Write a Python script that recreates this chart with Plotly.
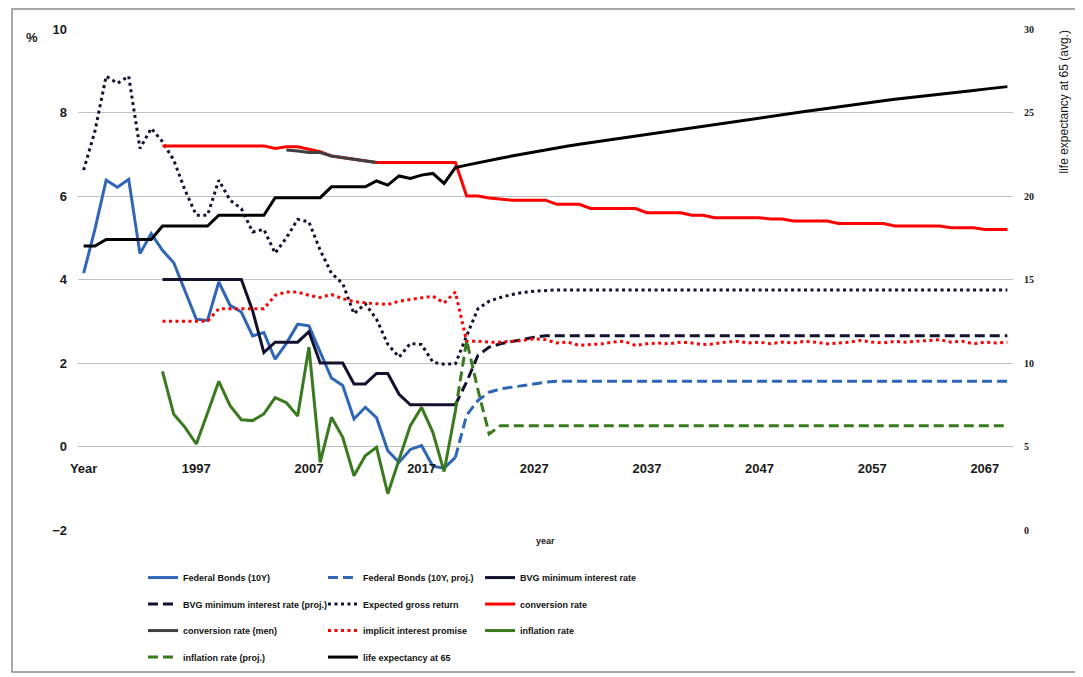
import plotly.graph_objects as go

# ---------------- data ----------------
tick_years = [1987, 1997, 2007, 2017, 2027, 2037, 2047, 2057, 2067]
tick_text = ["Year", "1997", "2007", "2017", "2027", "2037", "2047", "2057", "2067"]

fed_years = list(range(1987, 2021))
fed_bonds = [4.15, 5.2, 6.38, 6.21, 6.4, 4.62, 5.1, 4.7, 4.4, 3.7, 3.05, 3.02, 3.94, 3.38,
             3.22, 2.65, 2.73, 2.09, 2.47, 2.93, 2.89, 2.26, 1.64, 1.46, 0.66, 0.94, 0.69,
             -0.1, -0.38, -0.07, 0.02, -0.47, -0.52, -0.26]

fed_proj_years = list(range(2020, 2070))
fed_bonds_proj = [-0.26, 0.75, 1.1, 1.3, 1.38, 1.42, 1.46, 1.5, 1.54, 1.56,
                  1.56, 1.56, 1.56, 1.56, 1.56, 1.56, 1.56, 1.56, 1.56, 1.56,
                  1.56, 1.56, 1.56, 1.56, 1.56, 1.56, 1.56, 1.56, 1.56, 1.56,
                  1.56, 1.56, 1.56, 1.56, 1.56, 1.56, 1.56, 1.56, 1.56, 1.56,
                  1.56, 1.56, 1.56, 1.56, 1.56, 1.56, 1.56, 1.56, 1.56, 1.56]

bvg_years = list(range(1994, 2021))
bvg_min = [4.0, 4.0, 4.0, 4.0, 4.0, 4.0, 4.0, 4.0, 3.25, 2.25, 2.5, 2.5, 2.5, 2.75,
           2.0, 2.0, 2.0, 1.5, 1.5, 1.75, 1.75, 1.25, 1.0, 1.0, 1.0, 1.0, 1.0]

bvg_proj_years = list(range(2020, 2070))
bvg_min_proj = [1.0, 1.55, 2.18, 2.38, 2.46, 2.51, 2.57, 2.62, 2.65, 2.65,
                2.65, 2.65, 2.65, 2.65, 2.65, 2.65, 2.65, 2.65, 2.65, 2.65,
                2.65, 2.65, 2.65, 2.65, 2.65, 2.65, 2.65, 2.65, 2.65, 2.65,
                2.65, 2.65, 2.65, 2.65, 2.65, 2.65, 2.65, 2.65, 2.65, 2.65,
                2.65, 2.65, 2.65, 2.65, 2.65, 2.65, 2.65, 2.65, 2.65, 2.65]

exp_years = list(range(1987, 2070))
expected_return = [6.62, 7.55, 8.87, 8.7, 8.87, 7.14, 7.62, 7.3, 6.86, 6.14,
                   5.54, 5.54, 6.38, 5.9, 5.7, 5.14, 5.2, 4.63, 5.0, 5.44,
                   5.38, 4.7, 4.15, 3.9, 3.18, 3.42, 3.05, 2.45, 2.14, 2.47,
                   2.44, 2.02, 1.97, 1.98, 2.65, 3.3, 3.48, 3.57, 3.64, 3.69,
                   3.72, 3.74, 3.75, 3.75, 3.75, 3.75, 3.75, 3.75, 3.75, 3.75,
                   3.75, 3.75, 3.75, 3.75, 3.75, 3.75, 3.75, 3.75, 3.75, 3.75,
                   3.75, 3.75, 3.75, 3.75, 3.75, 3.75, 3.75, 3.75, 3.75, 3.75,
                   3.75, 3.75, 3.75, 3.75, 3.75, 3.75, 3.75, 3.75, 3.75, 3.75,
                   3.75, 3.75, 3.75]

conv_years = list(range(1994, 2070))
conversion_rate = [7.2, 7.2, 7.2, 7.2, 7.2, 7.2, 7.2, 7.2, 7.2, 7.2,
                   7.14, 7.18, 7.18, 7.12, 7.06, 6.96, 6.92, 6.88, 6.84, 6.8,
                   6.8, 6.8, 6.8, 6.8, 6.8, 6.8, 6.8, 6.0, 6.0, 5.95,
                   5.92, 5.9, 5.9, 5.9, 5.9, 5.8, 5.8, 5.8, 5.7, 5.7,
                   5.7, 5.7, 5.7, 5.6, 5.6, 5.6, 5.6, 5.54, 5.54, 5.48,
                   5.48, 5.48, 5.48, 5.48, 5.45, 5.45, 5.4, 5.4, 5.4, 5.4,
                   5.34, 5.34, 5.34, 5.34, 5.34, 5.28, 5.28, 5.28, 5.28, 5.28,
                   5.24, 5.24, 5.24, 5.2, 5.2, 5.2]

men_years = list(range(2005, 2014))
conversion_rate_men = [7.1, 7.08, 7.04, 7.04, 6.96, 6.92, 6.88, 6.84, 6.8]

impl_years = list(range(1994, 2070))
implicit_promise = [3.0, 3.0, 3.0, 3.0, 3.0, 3.3, 3.3, 3.3, 3.3, 3.3,
                    3.62, 3.7, 3.7, 3.62, 3.57, 3.64, 3.54, 3.47, 3.44, 3.42,
                    3.4, 3.48, 3.52, 3.57, 3.6, 3.44, 3.7,
                    2.52, 2.52, 2.5, 2.5, 2.52, 2.54, 2.58, 2.56, 2.48, 2.5,
                    2.42, 2.44, 2.46, 2.5, 2.52, 2.42, 2.46, 2.48, 2.46, 2.5,
                    2.48, 2.44, 2.46, 2.5, 2.52, 2.48, 2.5, 2.46, 2.5, 2.48,
                    2.52, 2.5, 2.46, 2.48, 2.5, 2.54, 2.5, 2.48, 2.52, 2.5,
                    2.52, 2.54, 2.56, 2.5, 2.52, 2.46, 2.5, 2.48, 2.5]

infl_years = list(range(1994, 2021))
inflation = [1.8, 0.77, 0.46, 0.06, 0.8, 1.56, 0.98, 0.64, 0.62, 0.78,
             1.17, 1.05, 0.73, 2.38, -0.38, 0.7, 0.22, -0.7, -0.22, -0.02,
             -1.13, -0.32, 0.5, 0.94, 0.34, -0.6, 0.85]

infl_proj_years = list(range(2020, 2070))
inflation_proj = [0.85, 2.54, 1.36, 0.3, 0.5, 0.5, 0.5, 0.5, 0.5, 0.5,
                  0.5, 0.5, 0.5, 0.5, 0.5, 0.5, 0.5, 0.5, 0.5, 0.5,
                  0.5, 0.5, 0.5, 0.5, 0.5, 0.5, 0.5, 0.5, 0.5, 0.5,
                  0.5, 0.5, 0.5, 0.5, 0.5, 0.5, 0.5, 0.5, 0.5, 0.5,
                  0.5, 0.5, 0.5, 0.5, 0.5, 0.5, 0.5, 0.5, 0.5, 0.5]

life_years = list(range(1987, 2070))
life_expectancy = [17.0, 17.0, 17.4, 17.4, 17.4, 17.4, 17.4, 18.2, 18.2, 18.2,
                   18.2, 18.2, 18.85, 18.85, 18.85, 18.85, 18.85, 19.9, 19.9, 19.9,
                   19.9, 19.9, 20.55, 20.55, 20.55, 20.55, 20.9, 20.65, 21.2, 21.05,
                   21.25, 21.35, 20.75, 21.7, 21.85,
                   22.0, 22.13, 22.26, 22.39, 22.52, 22.64, 22.76, 22.88, 23.0, 23.1,
                   23.2, 23.29, 23.39, 23.49, 23.58, 23.68, 23.78, 23.88, 23.98, 24.08,
                   24.18, 24.28, 24.38, 24.48, 24.58, 24.68, 24.77, 24.87, 24.96, 25.06,
                   25.15, 25.25, 25.34, 25.44, 25.53, 25.63, 25.71, 25.79, 25.86, 25.94,
                   26.02, 26.09, 26.17, 26.25, 26.32, 26.4, 26.47, 26.55]

# ---------------- style ----------------
BLUE = "#2F66B6"
NAVY = "#12122E"
RED = "#FF0000"
GREY = "#404040"
GREEN = "#3A7A1E"
BLACK = "#000000"
DASH = "10px,5px"
DOT = "3px,3.5px"
LEG_FONT = "Liberation Sans, Arial, sans-serif"
TICK_FONT = "Liberation Sans, Arial, sans-serif"

fig = go.Figure()


def add(x, y, name, color, dash, legend, group, axis="y"):
    fig.add_trace(go.Scatter(
        x=x, y=y, name=name, mode="lines", yaxis=axis,
        line=dict(color=color, width=3, dash=dash),
        legend=legend, legendgroup=group, hoverinfo="skip"))


add(fed_years, fed_bonds, "Federal Bonds (10Y)", BLUE, "solid", "legend", "a1")
add(fed_proj_years, fed_bonds_proj, "Federal Bonds (10Y, proj.)", BLUE, DASH, "legend2", "b1")
add(bvg_years, bvg_min, "BVG minimum interest rate", NAVY, "solid", "legend3", "c1")
add(bvg_proj_years, bvg_min_proj, "BVG minimum interest rate (proj.)", NAVY, DASH, "legend", "a2")
add(exp_years, expected_return, "Expected gross return", NAVY, DOT, "legend2", "b2")
add(conv_years, conversion_rate, "conversion rate", RED, "solid", "legend3", "c2")
add(men_years, conversion_rate_men, "conversion rate (men)", GREY, "solid", "legend", "a3")
add(impl_years, implicit_promise, "implicit interest promise", RED, DOT, "legend2", "b3")
add(infl_years, inflation, "inflation rate", GREEN, "solid", "legend3", "c3")
add(infl_proj_years, inflation_proj, "inflation rate (proj.)", GREEN, DASH, "legend", "a4")
add(life_years, life_expectancy, "life expectancy at 65", BLACK, "solid", "legend2", "b4", axis="y2")

leg_common = dict(orientation="v", xanchor="left", yanchor="top", y=-0.066,
                  bgcolor="rgba(0,0,0,0)", traceorder="grouped", tracegroupgap=7.5,
                  font=dict(family=LEG_FONT, size=9, color="#111111", weight="bold"))

# the page body adds an 8px offset; figure is a bit larger than the visible window
fig.update_layout(
    width=1075, height=690, autosize=False,
    margin=dict(l=70, r=70, t=21, b=168),
    paper_bgcolor="white", plot_bgcolor="white",
    showlegend=True,
    legend=dict(x=0.0695, **leg_common),
    legend2=dict(x=0.262, **leg_common),
    legend3=dict(x=0.43, **leg_common),
    xaxis=dict(range=[1986.5, 2069.5], tickmode="array", tickvals=tick_years,
               ticktext=tick_text, showgrid=False, zeroline=False, showline=False,
               anchor="free", position=2 / 12, ticks="", ticklabelstandoff=12,
               tickfont=dict(family=TICK_FONT, size=13, color="#1a1a1a", weight="bold")),
    yaxis=dict(range=[-2, 10], dtick=2, showgrid=True, gridcolor="#C0C0C0", gridwidth=1,
               zeroline=False, showline=False, ticks="", ticklabelstandoff=10,
               tickfont=dict(family=TICK_FONT, size=13, color="#1a1a1a", weight="bold")),
    yaxis2=dict(range=[0, 30], dtick=5, overlaying="y", side="right", showgrid=False,
                zeroline=False, showline=False, ticks="", ticklabelstandoff=10,
                tickfont=dict(family="Liberation Serif, DejaVu Serif, serif", size=10,
                              color="#1a1a1a", weight="bold")),
    annotations=[
        dict(text="%", xref="paper", yref="paper", x=-0.049, y=0.984,
             xanchor="center", yanchor="middle", showarrow=False,
             font=dict(family=TICK_FONT, size=13, color="#1a1a1a", weight="bold")),
        dict(text="year", xref="paper", yref="paper", x=0.5, y=-0.022,
             xanchor="center", yanchor="middle", showarrow=False,
             font=dict(family=TICK_FONT, size=9, color="#1a1a1a", weight="bold")),
        dict(text="life expectancy at 65 (avg.)", xref="paper", yref="paper",
             x=1.0535, y=1.0, xanchor="center", yanchor="top", textangle=-90,
             showarrow=False, font=dict(family=TICK_FONT, size=12, color="#1a1a1a")),
    ],
    shapes=[dict(type="rect", xref="paper", yref="paper", x0=-0.0706, x1=1.0695,
                 y0=-0.2834, y1=1.0399, line=dict(color="#8C8C8C", width=1.5),
                 fillcolor="rgba(0,0,0,0)", layer="below")],
)

fig.write_html("out.html")
